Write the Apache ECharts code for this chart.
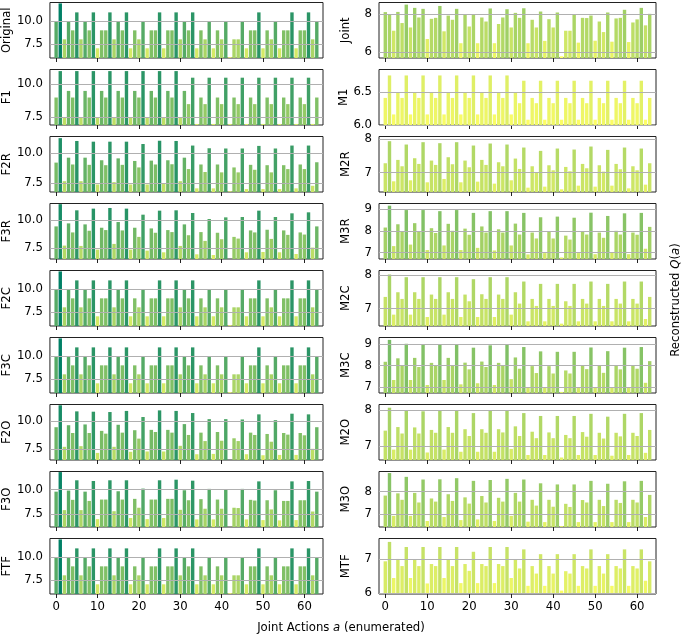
<!DOCTYPE html>
<html>
<head>
<meta charset="utf-8">
<script src="https://cdn.jsdelivr.net/npm/echarts@6/dist/echarts.min.js"></script>
<style>
  html, body { margin: 0; padding: 0; background: #fff; }
  #chart { width: 685px; height: 635px; }
</style>
</head>
<body>
<div id="chart"></div>
<script>
// reconstructed Q values per joint action (index 0..63)
const original = [10,12,8,10, 9,11,8,10, 9,11,7,9, 9,11,8,10, 9,11,7,9, 8,10,7,9, 9,11,7,9, 9,11,8,10,
                  9,11,7,9, 8,10,7,9, 8,10,6,8, 8,10,7,9, 9,11,7,9, 8,10,7,9, 9,11,7,9, 9,11,8,10];
const f1 = [9,11,7.5,9.5, 9,11,7.5,9.5, 9,11,7.5,9.5, 9,11,7.5,9.5, 9,11,7.5,9.5, 9,11,7.5,9.5, 9,11,7.5,9.5, 9,11,7.5,9.5,
            8.5,10.5,7,9, 8.5,10.5,7,9, 8.5,10.5,7,9, 8.5,10.5,7,9, 8.5,10.5,7,9, 8.5,10.5,7,9, 8.5,10.5,7,9, 8.5,10.5,7,9];
const f2r = [9.22,11.3,7.64,9.64, 9.06,11.06,7.64,9.64, 9.03,11.0,7.36,9.42, 9.0,11.0,7.56,9.58,
             9.03,11.0,7.36,9.36, 8.81,10.8,7.36,9.39, 9.06,11.08,7.42,9.42, 9.08,11.06,7.64,9.64,
             8.67,10.67,7.03,9.06, 8.42,10.44,7.03,9.06, 8.39,10.42,6.78,8.81, 8.39,10.42,6.97,9.03,
             8.61,10.64,6.97,9.0, 8.39,10.42,6.97,9.0, 8.67,10.67,7.03,9.06, 8.67,10.67,7.25,9.25];
const f3r = [9.46,11.45,7.74,9.73, 8.92,10.9,7.71,9.64, 9.07,11.05,7.38,9.34, 9.13,11.11,7.89,9.85,
             9.1,11.05,7.38,9.34, 8.52,10.51,7.29,9.28, 8.89,10.87,7.14,9.13, 8.95,10.9,7.71,9.64,
             8.67,10.66,6.96,8.95, 8.16,10.12,6.9,8.89, 8.31,10.27,6.54,8.52, 8.37,10.3,7.14,9.1,
             8.92,10.87,7.17,9.16, 8.34,10.3,7.14,9.1, 8.7,10.63,6.99,8.92, 8.73,10.72,7.56,9.46];
const f2c = [10,12,8,10, 9,11,8,10, 9,11,7,9, 9,11,8,10, 9,11,7,9, 8,10,7,9, 9,11,7,9, 9,11,8,10,
             9,11,7,9, 8,10,7,9, 8,10,6,8, 8,10,7,9, 9,11,7,9, 8,10,7,9, 9,11,7,9, 9,11,8,10];
const f3c = [10,12,8,10, 9,11,8,10, 9,11,7,9, 9,11,8,10, 9,11,7,9, 8,10,7,9, 9,11,7,9, 9,11,8,10,
             9,11,7,9, 8,10,7,9, 8,10,6,8, 8,10,7,9, 9,11,7,9, 8,10,7,9, 9,11,7,9, 9,11,8,10];
const f2o = [9.48,11.46,7.71,9.66, 8.96,10.91,7.77,9.73, 8.96,10.88,7.16,9.15, 8.9,10.85,7.71,9.7,
             8.99,10.95,7.26,9.21, 8.45,10.4,7.29,9.24, 9.05,11.0,7.29,9.24, 8.99,10.95,7.8,9.76,
             8.78,10.76,7.04,8.99, 8.23,10.21,7.07,9.05, 8.26,10.21,6.52,8.48, 8.23,10.18,7.04,8.99,
             8.78,10.64,6.95,8.87, 8.17,10.12,6.98,8.96, 8.81,10.7,6.98,8.96, 8.75,10.64,7.53,9.48];
const f3o = [9.79,11.77,7.92,9.9, 8.96,10.94,7.92,9.79, 8.85,10.87,7.01,8.99, 8.99,10.94,7.81,9.83,
             8.99,10.94,7.12,9.06, 8.16,10.1,7.01,8.99, 8.99,10.94,7.12,9.06, 9.06,11.0,7.95,9.93,
             8.92,10.9,6.98,9.03, 8.06,10.07,6.98,8.99, 8.06,9.97,6.22,8.16, 8.13,10.07,6.98,8.96,
             8.89,10.83,6.91,8.92, 7.99,9.93,6.88,8.85, 8.85,10.83,6.91,8.92, 8.92,10.87,7.78,9.79];
const ftf = [10,12,8,10, 9,11,8,10, 9,11,7,9, 9,11,8,10, 9,11,7,9, 8,10,7,9, 9,11,7,9, 9,11,8,10,
             9,11,7,9, 8,10,7,9, 8,10,6,8, 8,10,7,9, 9,11,7,9, 8,10,7,9, 9,11,7,9, 9,11,8,10];

const joint = [8.09,7.98,7.12,8.1, 7.52,8.48,7.29,8.31, 7.81,8.26,6.69,7.74, 7.79,8.41,7.09,7.91,
               7.69,8.26,6.47,7.97, 7.34,7.98,6.47,7.81, 7.6,8.28,6.47,7.47, 7.81,8.24,7.29,8.05,
               7.79,8.29,6.47,7.69, 7.29,8.12,6.59,7.72, 7.29,8.07,5.79,7.12, 7.12,7.97,6.5,7.79,
               7.78,7.91,6.6,7.6, 7.05,8.07,6.55,7.76, 7.79,8.21,6.53,7.55, 7.71,8.31,7.4,8.0];
const m1 = [6.41,6.75,6.16,6.49, 6.41,6.75,6.16,6.49, 6.41,6.75,6.16,6.49, 6.41,6.75,6.16,6.49,
            6.41,6.75,6.16,6.49, 6.41,6.75,6.16,6.49, 6.41,6.75,6.16,6.49, 6.41,6.75,6.16,6.49,
            6.33,6.67,6.08,6.41, 6.33,6.67,6.08,6.41, 6.33,6.67,6.08,6.41, 6.33,6.67,6.08,6.41,
            6.33,6.67,6.08,6.41, 6.33,6.67,6.08,6.41, 6.33,6.67,6.08,6.41, 6.33,6.67,6.08,6.41];
const m2r = [7.28,7.94,6.74,7.38, 7.19,7.84,6.77,7.43, 7.26,7.91,6.71,7.36, 7.23,7.88,6.81,7.46,
             7.25,7.91,6.71,7.36, 7.16,7.81,6.73,7.38, 7.23,7.87,6.67,7.31, 7.19,7.84,6.77,7.42,
             7.11,7.75,6.55,7.19, 7.01,7.65,6.58,7.22, 7.07,7.72,6.5,7.17, 7.04,7.69,6.61,7.26,
             7.13,7.78,6.58,7.22, 7.03,7.68,6.61,7.26, 7.1,7.75,6.53,7.19, 7.07,7.72,6.64,7.28];
const m3r = [8.15,9.15,7.3,8.3, 7.98,8.95,7.37,8.35, 7.98,8.95,7.12,8.12, 7.9,8.9,7.33,8.32,
             8.0,8.95,7.12,8.1, 7.82,8.82,7.22,8.2, 7.92,8.9,7.1,8.07, 7.92,8.9,7.33,8.33,
             7.83,8.82,6.92,7.92, 7.65,8.62,6.98,7.97, 7.65,8.65,6.78,7.78, 7.6,8.6,6.98,7.98,
             7.83,8.83,6.93,7.92, 7.68,8.68,7.0,8.0, 7.83,8.8,6.93,7.92, 7.82,8.82,7.18,8.18];
const m2c = [7.35,8.02,6.82,7.49, 7.29,7.94,6.82,7.49, 7.29,7.94,6.75,7.42, 7.29,7.94,6.82,7.49,
             7.29,7.94,6.75,7.42, 7.22,7.88,6.75,7.43, 7.29,7.94,6.75,7.42, 7.29,7.94,6.82,7.49,
             7.15,7.81,6.62,7.29, 7.08,7.74,6.62,7.29, 7.08,7.74,6.55,7.22, 7.08,7.74,6.62,7.29,
             7.15,7.81,6.62,7.29, 7.08,7.74,6.62,7.29, 7.15,7.81,6.62,7.29, 7.15,7.81,6.69,7.35];
const m3c = [8.17,9.18,7.33,8.33, 7.98,9.0,7.33,8.35, 7.93,8.95,7.1,8.12, 7.98,8.98,7.33,8.35,
             7.98,8.98,7.13,8.13, 7.82,8.82,7.18,8.18, 7.93,8.93,7.1,8.12, 7.98,8.98,7.37,8.37,
             7.85,8.85,6.97,7.97, 7.65,8.65,6.97,7.97, 7.63,8.63,6.78,7.77, 7.63,8.63,6.98,7.98,
             7.83,8.83,6.98,7.98, 7.66,8.66,6.99,7.99, 7.82,8.82,6.98,7.98, 7.85,8.85,7.2,8.2];
const m2o = [7.43,8.07,6.9,7.53, 7.35,7.99,6.9,7.52, 7.35,7.97,6.82,7.45, 7.37,8.0,6.9,7.53,
             7.37,8.0,6.84,7.47, 7.28,7.92,6.84,7.47, 7.37,8.0,6.84,7.47, 7.38,8.0,6.92,7.55,
             7.28,7.92,6.75,7.4, 7.22,7.84,6.75,7.38, 7.22,7.84,6.68,7.31, 7.22,7.84,6.75,7.39,
             7.26,7.9,6.75,7.37, 7.21,7.82,6.73,7.37, 7.27,7.9,6.75,7.37, 7.28,7.92,6.81,7.45];
const m3o = [7.82,8.83,6.91,7.92, 7.63,8.66,6.91,7.94, 7.51,8.54,6.68,7.69, 7.55,8.55,6.86,7.88,
             7.58,8.6,6.72,7.74, 7.46,8.48,6.75,7.8, 7.51,8.52,6.68,7.72, 7.55,8.57,6.91,7.94,
             7.55,8.54,6.65,7.63, 7.37,8.37,6.63,7.63, 7.32,8.32,6.45,7.45, 7.31,8.32,6.63,7.62,
             7.51,8.48,6.63,7.63, 7.35,8.35,6.63,7.63, 7.49,8.46,6.63,7.63, 7.51,8.48,6.86,7.85];
const mtf = [6.93,7.5,6.44,7.0, 6.79,7.35,6.44,6.99, 6.79,7.35,6.28,6.85, 6.79,7.35,6.44,6.99,
             6.79,7.35,6.29,6.85, 6.65,7.21,6.29,6.85, 6.79,7.35,6.29,6.85, 6.79,7.35,6.44,6.99,
             6.72,7.28,6.21,6.79, 6.57,7.14,6.21,6.79, 6.57,7.14,6.07,6.64, 6.57,7.14,6.21,6.79,
             6.72,7.28,6.21,6.79, 6.57,7.14,6.21,6.79, 6.72,7.28,6.21,6.79, 6.72,7.28,6.36,6.93];

const leftNames = ['Original', 'F1', 'F2R', 'F3R', 'F2C', 'F3C', 'F2O', 'F3O', 'FTF'];
const rightNames = ['Joint', 'M1', 'M2R', 'M3R', 'M2C', 'M3C', 'M2O', 'M3O', 'MTF'];
const leftData = [original, f1, f2r, f3r, f2c, f3c, f2o, f3o, ftf];
const rightData = [joint, m1, m2r, m3r, m2c, m3c, m2o, m3o, mtf];

// y limits of each panel
const leftRange = [[5.92, 12.1], [6.92, 11.12], [6.72, 11.44], [6.54, 11.51], [5.92, 12.1],
                   [5.92, 12.1], [6.52, 11.53], [6.21, 11.83], [5.92, 12.1]];
const rightRange = [[5.70, 8.59], [6.0, 6.84], [6.42, 8.08], [6.71, 9.25], [6.48, 8.14],
                    [6.73, 9.29], [6.61, 8.16], [6.41, 8.9], [5.97, 7.6]];
// y tick values of each panel
const leftTicks = [7.5, 10];
const rightTicks = [[6, 8], [6.0, 6.5], [7, 8], [7, 8, 9], [7, 8], [7, 8, 9], [7, 8], [7, 8], [6, 7]];
const xTicks = [0, 10, 20, 30, 40, 50, 60];

const FONT = 'DejaVu Sans';
const FS = 11.7;
const rowTop = 2.5, rowStep = 67, rowH = 55.5;

const grids = [], xAxes = [], yAxes = [], series = [];

function addPanel(col, row, name, values, range, ticks, decimals) {
  const k = grids.length;
  grids.push({
    left: col === 0 ? 47 : 379,
    top: rowTop + row * rowStep,
    width: col === 0 ? 276 : 277,
    height: rowH,
    show: true,
    borderColor: '#222',
    borderWidth: 1,
    backgroundColor: 'transparent'
  });
  xAxes.push({
    gridIndex: k,
    type: 'value',
    min: -1.5,
    max: 64.5,
    axisLine: { show: false },
    splitLine: { show: false },
    axisTick: { show: true, length: 4, customValues: xTicks, lineStyle: { color: '#222' } },
    axisLabel: {
      show: row === 8,
      customValues: xTicks,
      fontFamily: FONT, fontSize: FS, color: '#000', margin: 7
    }
  });
  yAxes.push({
    gridIndex: k,
    type: 'value',
    min: range[0],
    max: range[1],
    axisLine: { show: false },
    splitLine: { show: false },
    axisTick: { show: true, length: 4, customValues: ticks, lineStyle: { color: '#222' } },
    axisLabel: {
      customValues: ticks,
      formatter: v => v.toFixed(decimals),
      fontFamily: FONT, fontSize: FS, color: '#000', margin: 7
    },
    name: name,
    nameLocation: 'middle',
    nameGap: col === 0 ? 35 : 27,
    nameRotate: 90,
    nameTextStyle: { fontFamily: FONT, fontSize: FS, color: '#000' }
  });
  series.push({
    type: 'bar',
    xAxisIndex: k,
    yAxisIndex: k,
    barWidth: 3.4,
    data: values.map((v, i) => [i, v]),
    markLine: {
      silent: true,
      symbol: 'none',
      label: { show: false },
      lineStyle: { color: '#b0b0b0', width: 1, type: 'solid' },
      data: ticks.map(t => ({ yAxis: t }))
    }
  });
}

for (let r = 0; r < 9; r++) {
  addPanel(0, r, leftNames[r], leftData[r], leftRange[r], leftTicks, 1);
}
for (let r = 0; r < 9; r++) {
  addPanel(1, r, rightNames[r], rightData[r], rightRange[r], rightTicks[r], r === 1 ? 1 : 0);
}

const chart = echarts.init(document.getElementById('chart'));
chart.setOption({
  animation: false,
  backgroundColor: '#fff',
  grid: grids,
  xAxis: xAxes,
  yAxis: yAxes,
  series: series,
  visualMap: {
    type: 'continuous',
    show: false,
    min: 6,
    max: 12,
    dimension: 1,
    seriesIndex: series.map((s, i) => i),
    inRange: { color: ['#ffff66', '#008066'] }
  },
  graphic: [
    {
      type: 'text',
      x: 341, y: 628,
      style: {
        text: '{n|Joint Actions }{i|a}{n| (enumerated)}',
        align: 'center', verticalAlign: 'middle',
        rich: {
          n: { fontFamily: FONT, fontSize: FS, fill: '#000' },
          i: { fontFamily: FONT, fontSize: FS, fontStyle: 'italic', fill: '#000' }
        }
      }
    },
    {
      type: 'text',
      x: 676, y: 300,
      rotation: Math.PI / 2,
      style: {
        text: '{n|Reconstructed }{i|Q}{n|(}{i|a}{n|)}',
        align: 'center', verticalAlign: 'middle',
        rich: {
          n: { fontFamily: FONT, fontSize: FS, fill: '#000' },
          i: { fontFamily: FONT, fontSize: FS, fontStyle: 'italic', fill: '#000' }
        }
      }
    }
  ]
});
</script>
</body>
</html>
